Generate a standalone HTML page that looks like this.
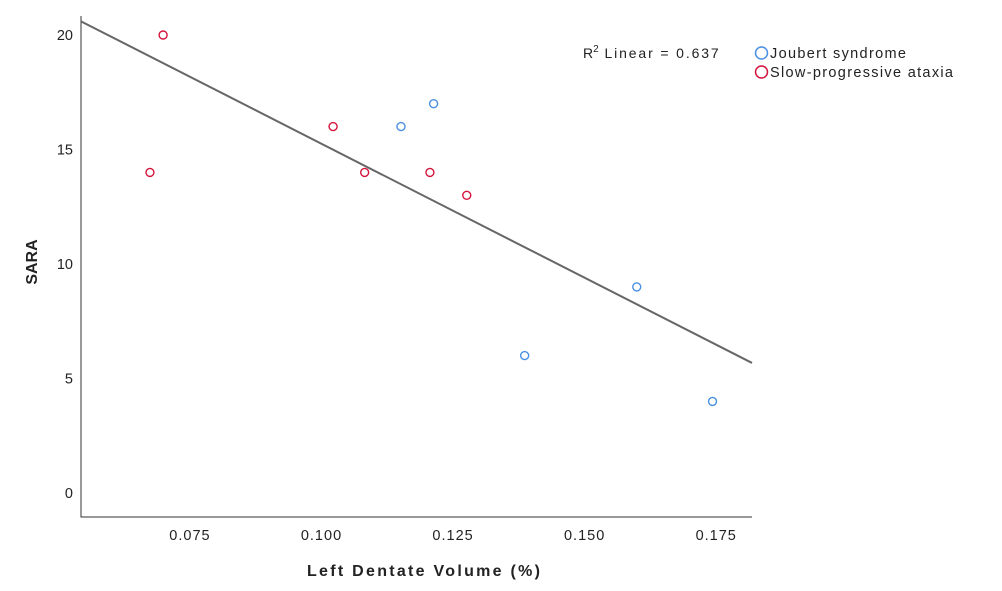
<!DOCTYPE html>
<html><head><meta charset="utf-8"><style>
html,body{margin:0;padding:0;background:#fff;}
svg{display:block;font-family:"Liberation Sans",sans-serif;}
</style></head><body>
<svg id="chart" width="1002" height="591" viewBox="0 0 1002 591">
<rect width="1002" height="591" fill="#fff"/>
<g id="axes"></g>
<g id="marks"></g>
<text x="583" y="58" font-size="14" fill="#222">R<tspan dy="-6" font-size="10">2</tspan><tspan dy="6" textLength="120" lengthAdjust="spacing"> Linear = 0.637</tspan></text>
<g>
<circle cx="761.5" cy="53" r="6" fill="none" stroke="#4a90e2" stroke-width="1.5"/>
<text x="770" y="58" font-size="14.5" fill="#222" textLength="136" lengthAdjust="spacing">Joubert syndrome</text>
<circle cx="761.5" cy="72" r="6" fill="none" stroke="#d4143c" stroke-width="1.5"/>
<text x="770" y="77" font-size="14.5" fill="#222" textLength="183" lengthAdjust="spacing">Slow-progressive ataxia</text>
</g>
<text x="307" y="576" font-size="16" font-weight="bold" fill="#222" textLength="233" lengthAdjust="spacing">Left Dentate Volume (%)</text>
<text transform="translate(37,262) rotate(-90)" font-size="16" font-weight="bold" text-anchor="middle" fill="#222">SARA</text>
</svg>
<script>
const xTicks = [0.075, 0.100, 0.125, 0.150, 0.175];
const xTickLabels = ["0.075", "0.100", "0.125", "0.150", "0.175"];
const yTicks = [0, 5, 10, 15, 20];
const joubertX = [0.1151, 0.1213, 0.1386, 0.1599, 0.1743];
const joubertY = [16, 17, 6, 9, 4];
const ataxiaX = [0.0699, 0.0674, 0.1022, 0.1082, 0.1206, 0.1276];
const ataxiaY = [20, 14, 16, 14, 14, 13];
const fitIntercept = 26.95;
const fitSlope = -117.0;

const NS = "http://www.w3.org/2000/svg";
const xMin = 0.0543, xMax = 0.1818, L = 81, R = 752;
const T = 16, B = 517;
function sx(v){ return L + (v - xMin) / (xMax - xMin) * (R - L); }
function sy(v){ return 493 - v * 22.9; }
function mk(tag, attrs, parent){ const e = document.createElementNS(NS, tag); for (const k in attrs) e.setAttribute(k, attrs[k]); parent.appendChild(e); return e; }
const axes = document.getElementById("axes");
const marks = document.getElementById("marks");
let a = mk("path", {d:`M${L},${T} V${B} H${R}`, fill:"none", stroke:"#333", "stroke-width":1}, axes);


xTicks.forEach((t,i)=>{
  const e = mk("text", {x:sx(t), y:540, "font-size":14.5, "text-anchor":"middle", fill:"#222", "letter-spacing":"1"}, axes);
  e.textContent = xTickLabels[i];
  
  
});
yTicks.forEach(t=>{
  const e = mk("text", {x:73, y:sy(t)+5, "font-size":14.5, "text-anchor":"end", fill:"#222"}, axes);
  e.textContent = String(t);
  
  
});
const fl = mk("line", {x1:sx(xMin), y1:sy(fitIntercept + fitSlope*xMin), x2:sx(xMax), y2:sy(fitIntercept + fitSlope*xMax), stroke:"#666", "stroke-width":2}, marks);


joubertX.forEach((v,i)=>{
  const c = mk("circle", {cx:sx(v), cy:sy(joubertY[i]), r:4, fill:"none", stroke:"#4a90e2", "stroke-width":1.4}, marks);
  
  
});
ataxiaX.forEach((v,i)=>{
  const c = mk("circle", {cx:sx(v), cy:sy(ataxiaY[i]), r:4, fill:"none", stroke:"#d4143c", "stroke-width":1.4}, marks);
  
  
});
</script>
</body></html>
